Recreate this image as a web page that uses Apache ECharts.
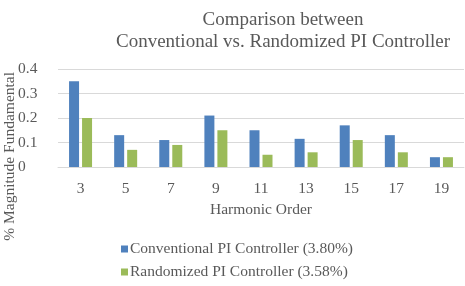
<!DOCTYPE html>
<html>
<head>
<meta charset="utf-8">
<script src="https://cdn.jsdelivr.net/npm/echarts@6/dist/echarts.min.js"></script>
<style>
  html, body { margin: 0; padding: 0; background: #fff; }
  #chart { width: 465px; height: 286px; }
</style>
</head>
<body>
<div id="chart"></div>
<script>
var harmonics = ['3', '5', '7', '9', '11', '13', '15', '17', '19'];
var conventional = [0.35, 0.13, 0.11, 0.21, 0.15, 0.115, 0.17, 0.13, 0.04];
var randomized = [0.20, 0.07, 0.09, 0.15, 0.05, 0.06, 0.11, 0.06, 0.04];
var yTicks = [0, 0.1, 0.2, 0.3, 0.4];

var serif = '"Liberation Serif", "DejaVu Serif", serif';
var grey = '#595959';
var small = 15.5;

var myChart = echarts.init(document.getElementById('chart'));
var option = {
  animation: false,
  textStyle: { fontFamily: serif },
  title: {
    text: 'Comparison between\nConventional vs. Randomized PI Controller',
    left: 278,
    top: 4,
    textAlign: 'center',
    textStyle: { fontFamily: serif, fontWeight: 'normal', fontSize: 19, color: grey, lineHeight: 22 }
  },
  grid: { left: 58, right: 1, top: 69, bottom: 119, containLabel: false },
  legend: {
    orient: 'vertical',
    left: 116,
    top: 236,
    itemWidth: 7,
    itemHeight: 7,
    itemGap: 7,
    icon: 'rect',
    textStyle: { fontFamily: serif, fontSize: small, color: grey, padding: [0, 0, 0, -3] },
    data: ['Conventional PI Controller (3.80%)', 'Randomized PI Controller (3.58%)']
  },
  xAxis: {
    type: 'category',
    data: harmonics,
    name: 'Harmonic Order',
    nameLocation: 'middle',
    nameGap: 35,
    nameTextStyle: { fontFamily: serif, fontSize: small, color: grey },
    axisLine: { lineStyle: { color: '#d9d9d9' } },
    axisTick: { show: false },
    axisLabel: { fontFamily: serif, fontSize: small, color: grey, margin: 14 }
  },
  yAxis: {
    type: 'value',
    min: 0,
    max: 0.4,
    interval: 0.1,
    axisLine: { show: false },
    axisTick: { show: false },
    axisLabel: {
      fontFamily: serif, fontSize: small, color: grey, margin: 40, align: 'left',
      formatter: function (v) { return yTicks.indexOf(Math.round(v * 10) / 10) >= 0 ? String(Math.round(v * 10) / 10) : ''; }
    },
    splitLine: { lineStyle: { color: '#d9d9d9' } }
  },
  graphic: [{
    type: 'text',
    left: 2,
    top: 72,
    rotation: Math.PI / 2,
    style: { text: '% Magnitude Fundamental', font: small + 'px ' + serif, fill: grey }
  }],
  series: [{
    name: 'Conventional PI Controller (3.80%)',
    type: 'bar',
    data: conventional,
    barWidth: 10,
    barGap: '30%',
    itemStyle: { color: '#4F81BD' }
  }, {
    name: 'Randomized PI Controller (3.58%)',
    type: 'bar',
    data: randomized,
    barWidth: 10,
    itemStyle: { color: '#9BBB59' }
  }]
};
myChart.setOption(option);
</script>
</body>
</html>
